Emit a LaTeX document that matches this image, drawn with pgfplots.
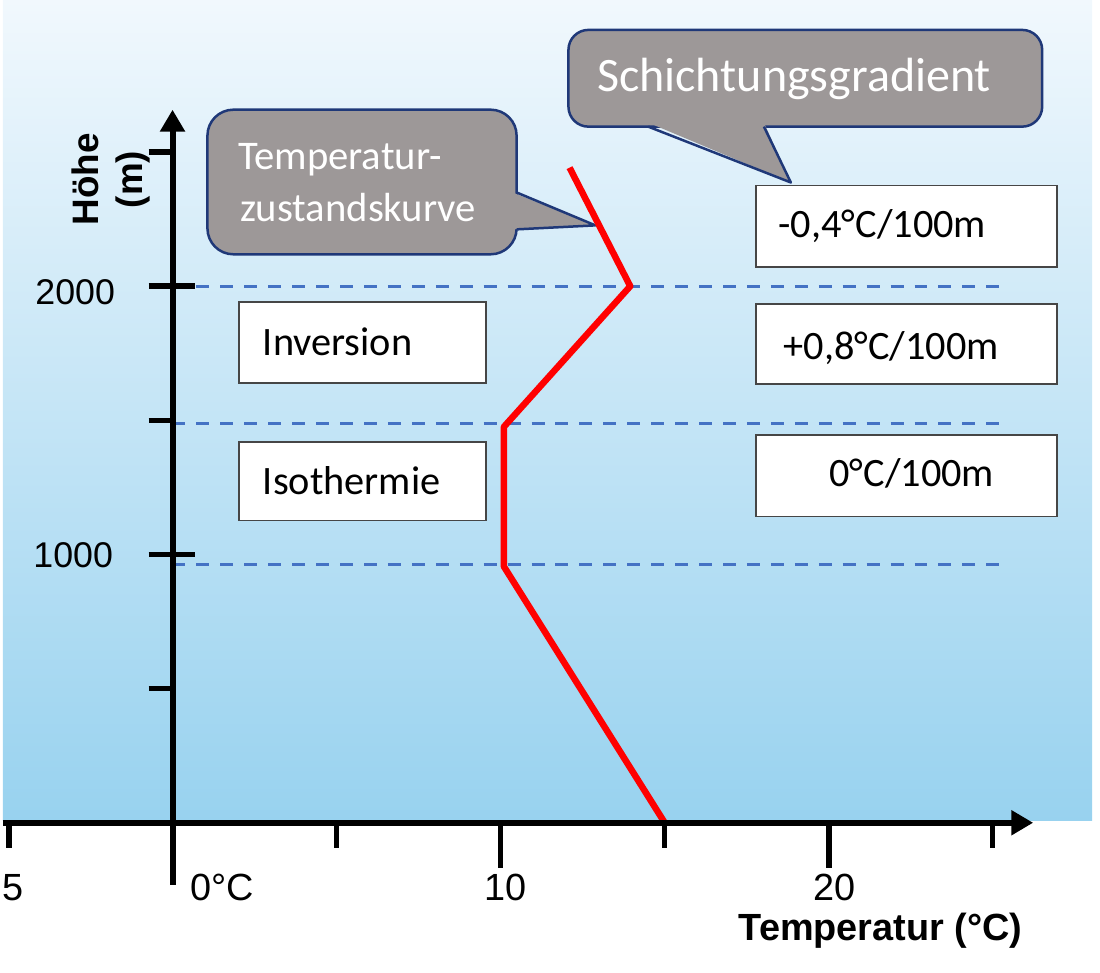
\documentclass[border=0pt]{standalone}
\usepackage{fontspec}
\setmainfont{Liberation Sans}
\newfontfamily\carlito{Carlito}
\usepackage{pgfplots}
\pgfplotsset{compat=1.18}
\usetikzlibrary{arrows.meta}

\definecolor{bgtop}{RGB}{241,248,253}
\definecolor{bgbot}{RGB}{152,210,239}
\definecolor{calloutgray}{RGB}{157,152,152}
\definecolor{calloutedge}{RGB}{31,56,120}
\definecolor{dashblue}{RGB}{68,114,196}
\definecolor{boxedge}{RGB}{70,70,70}

\begin{document}
\begin{tikzpicture}
% background (absolute mm; 1 px = 0.1 mm)
\shade[top color=bgtop, bottom color=bgbot] (0,15.2mm) rectangle (109.2mm,97.5mm);
\begin{scope}[shift={(0,97.5mm)}, x=0.1mm, y=-0.1mm]
  \path (0,0) rectangle (1100,975);
  % callout: Temperaturzustandskurve
  \filldraw[fill=calloutgray, draw=calloutedge, line width=0.25mm, rounded corners=2.6mm] (205,110) rectangle (515,255);
  \fill[calloutgray] (511,193) -- (594,226) -- (511,230) -- cycle;
  \draw[calloutedge, line width=0.25mm, line join=round] (515,193) -- (594,226) -- (515,230);
  \node[anchor=base west, inner sep=0, text=white, font=\carlito\fontsize{11.6}{14}\selectfont] at (235,170) {Temperatur-};
  \node[anchor=base west, inner sep=0, text=white, font=\carlito\fontsize{11.6}{14}\selectfont] at (237,222) {zustandskurve};
  % callout: Schichtungsgradient
  \filldraw[fill=calloutgray, draw=calloutedge, line width=0.25mm, rounded corners=2mm] (567,30) rectangle (1042,127);
  \fill[calloutgray] (647,123) -- (790,183) -- (763,123) -- cycle;
  \draw[calloutedge, line width=0.25mm, line join=round] (647,127) -- (790,183) -- (763,127);
  \node[anchor=base west, inner sep=0, text=white, font=\carlito\fontsize{13.7}{16}\selectfont] at (595,92) {Schichtungsgradient};
  % boxes
  \begin{scope}[boxedge, fill=white, line width=0.18mm]
    \filldraw (237,303) rectangle (484,384);
    \filldraw (237,443) rectangle (484,522);
    \filldraw (755,186) rectangle (1057,268);
    \filldraw (755,305) rectangle (1057,385);
    \filldraw (755,436) rectangle (1057,518);
  \end{scope}
  \begin{scope}[every node/.style={anchor=base west, inner sep=0, text=black, font=\carlito\fontsize{11.5}{14}\selectfont}]
    \node at (260,356) {Inversion};
    \node at (260,496) {Isothermie};
    \node at (777,238) {-0,4°C/100m};
    \node at (782,360) {+0,8°C/100m};
    \node at (828,488) {0°C/100m};
  \end{scope}
\end{scope}

\begin{axis}[at={(0,0)}, anchor=south west, scale only axis,
  width=110mm, height=97.5mm,
  xmin=-5.167, xmax=28.267, ymin=-557.6, ymax=3066.9,
  axis lines=none, clip=false]
  \addplot[dashblue, no markers, line width=0.3mm, dash pattern=on 1.3mm off 1.1mm] coordinates {(0,2000) (25.2,2000)};
  \addplot[dashblue, no markers, line width=0.3mm, dash pattern=on 1.3mm off 1.1mm] coordinates {(0,1487) (25.2,1487)};
  \addplot[dashblue, no markers, line width=0.3mm, dash pattern=on 1.3mm off 1.1mm] coordinates {(0,963) (25.2,963)};
  \addplot[red, no markers, line width=0.65mm, line join=round] coordinates {
    (15,0) (10.1,955) (10.1,1476) (13.95,2000) (12.1,2442)};
\end{axis}

\begin{scope}[shift={(0,97.5mm)}, x=0.1mm, y=-0.1mm]
  % axes
  \draw[line width=0.6mm, -{Triangle[length=2.2mm,width=2.4mm]}] (0,825) -- (1033,825);
  \draw[line width=0.6mm, -{Triangle[length=2.2mm,width=2.4mm]}] (170,887) -- (170,110);
  \foreach \x in {6,334.5,663.5,992} \draw[line width=0.55mm] (\x,825) -- (\x,850);
  \foreach \x in {499,828} \draw[line width=0.55mm] (\x,825) -- (\x,870);
  \foreach \y in {152.5,421.5,690.5} \draw[line width=0.55mm] (146,\y) -- (170,\y);
  \foreach \y in {287,556} \draw[line width=0.55mm] (146,\y) -- (193,\y);
  % tick labels
  \begin{scope}[every node/.style={inner sep=0, font=\fontsize{10.2}{12}\selectfont}]
    \node[anchor=base east] at (113,305) {2000};
    \node[anchor=base east] at (111,569) {1000};
  \end{scope}
  \begin{scope}[every node/.style={inner sep=0, font=\fontsize{10.8}{13}\selectfont}]
    \node[anchor=base east] at (21,903) {5};
    \node[anchor=base west] at (187,903) {0°C};
    \node[anchor=base] at (504,903) {10};
    \node[anchor=base] at (834,903) {20};
  \end{scope}
  \node[anchor=base west, inner sep=0, font=\bfseries\fontsize{10.8}{13}\selectfont] at (737,943) {Temperatur (°C)};
  \node[rotate=90, align=center, inner sep=0, font=\bfseries\fontsize{10.5}{12.5}\selectfont] at (108,180) {Höhe\\(m)};
\end{scope}
\end{tikzpicture}
\end{document}
